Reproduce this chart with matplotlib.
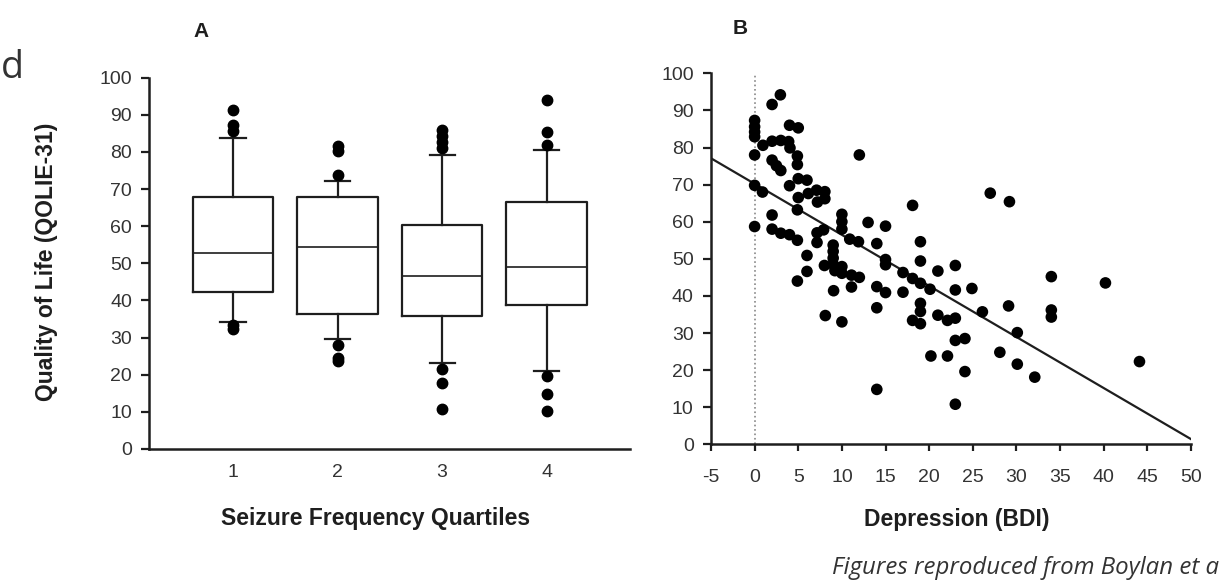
import matplotlib
matplotlib.use("Agg")
from matplotlib import pyplot as plt

plt.rcParams['font.family'] = ['Liberation Sans', 'DejaVu Sans']
plt.rcParams['axes.unicode_minus'] = False

# PANEL A - box plot stats (QOLIE-31 by seizure quartile)
quartiles = [1, 2, 3, 4]
q1 = [42.4, 36.3, 35.8, 38.8]
med = [52.7, 54.3, 46.6, 49.1]
q3 = [68.0, 68.0, 60.4, 66.5]
whis_lo = [34.3, 29.6, 23.1, 21.1]
whis_hi = [83.7, 72.1, 79.1, 80.6]
fliers = [
    [91.4, 87.3, 85.7, 33.4, 32.4],
    [81.5, 80.2, 73.9, 27.9, 24.6, 23.6],
    [86.0, 84.3, 82.6, 81.0, 21.5, 17.7, 10.7],
    [94.1, 85.3, 81.8, 19.7, 14.7, 10.2],
]

# PANEL B - depression (BDI) vs QOLIE-31
bdi = [0, 0, 0, 0, 0, 0, 0,
       0.95, 0.9,
       2.0, 2.0, 2.0, 2.5, 2.0, 2.0,
       2.95, 3.0, 3.0, 3.0,
       4.0, 3.9, 4.05, 4.0, 4.0,
       5.0, 4.9, 4.9, 5.0, 5.0, 4.9, 4.9, 4.9,
       6.0, 6.15, 6.0, 6.0,
       7.1, 7.2, 7.15, 7.15,
       8.05, 8.05, 7.9, 8.0, 8.1,
       9.0, 9.0, 9.0, 9.0, 9.2, 9.05,
       10.0, 10.0, 10.0, 10.0, 10.0, 10.0,
       10.9, 11.1, 11.1,
       11.9, 12.0, 12.0,
       13.0,
       14.0, 14.0, 14.0, 14.0,
       15.0, 15.0, 15.0, 15.0,
       17.0, 17.0,
       18.1, 18.1, 18.1,
       19.0, 19.0, 19.0, 19.0, 19.0, 19.0,
       20.1, 20.2,
       21.0, 21.0,
       22.1, 22.1,
       23.0, 23.0, 23.0, 23.0, 23.0,
       24.1, 24.1,
       24.9, 26.1, 27.0, 28.1,
       29.2, 29.1,
       30.1, 30.1, 32.1,
       34.0, 34.0, 34.0,
       40.2, 44.1]
qolie = [87.3, 85.6, 84.2, 82.9, 78.0, 69.8, 58.7,
         80.6, 68.0,
         91.6, 81.7, 76.6, 75.1, 61.8, 58.0,
         94.2, 81.9, 73.8, 56.9,
         86.0, 81.6, 79.9, 69.7, 56.5,
         85.3, 77.7, 75.4, 71.6, 66.5, 63.2, 55.0, 44.0,
         71.2, 67.6, 50.9, 46.6,
         68.5, 65.3, 57.0, 54.4,
         68.1, 66.2, 57.8, 48.2, 34.7,
         53.7, 52.0, 50.2, 48.5, 46.8, 41.4,
         62.0, 60.0, 58.0, 47.9, 46.1, 33.0,
         55.3, 45.6, 42.4,
         54.6, 78.0, 45.0,
         59.8,
         54.1, 42.5, 36.8, 14.8,
         58.8, 49.8, 48.4, 40.9,
         46.3, 41.0,
         64.4, 44.7, 33.4,
         54.6, 49.4, 43.4, 38.0, 35.8, 32.5,
         41.8, 23.8,
         46.7, 34.8,
         33.4, 23.8,
         48.2, 41.6, 34.0, 28.0, 10.8,
         28.5, 19.6,
         42.0, 35.7, 67.7, 24.8,
         65.4, 37.3,
         30.1, 21.6, 18.1,
         45.2, 36.2, 34.3,
         43.5, 22.3]
fit_x = [-5, 50]
fit_y = [77.1, 1.4]

INK = '#1e1e1e'

fig = plt.figure(figsize=(12.21, 5.81), dpi=100)
axA = fig.add_axes([0.1223, 0.2272, 0.3939, 0.6391])
axB = fig.add_axes([0.5823, 0.2353, 0.3931, 0.6385])

# --- A: box plots
stats = []
for i in range(len(quartiles)):
    stats.append(dict(med=med[i], q1=q1[i], q3=q3[i],
                      whislo=whis_lo[i], whishi=whis_hi[i], fliers=fliers[i]))
line = dict(color=INK, linewidth=1.6)
axA.bxp(stats, positions=quartiles, widths=0.77, capwidths=0.24,
        boxprops=line, whiskerprops=line, capprops=line,
        medianprops=dict(color=INK, linewidth=1.2),
        flierprops=dict(marker='o', markerfacecolor='black',
                        markeredgecolor='black', markersize=7.5))
axA.set_xlim(0.2, 4.8)
axA.set_ylim(0, 100)
axA.set_yticks(range(0, 101, 10))
axA.set_xticks(quartiles)
axA.set_xticklabels([str(q) for q in quartiles])
axA.tick_params(axis='x', length=0, pad=11)
axA.set_xlabel('Seizure Frequency Quartiles', fontsize=16.5, fontweight='bold', color=INK)
axA.xaxis.set_label_coords(0.471, -0.156)
axA.set_ylabel('Quality of Life (QOLIE-31)', fontsize=16.5, fontweight='bold', color=INK)
axA.yaxis.set_label_coords(-0.19, 0.505)

# --- B: scatter with regression line
axB.plot([0, 0], [0, 100], color='#888888', linestyle=':', linewidth=1.2)
axB.scatter(bdi, qolie, s=70, color='black', edgecolors='none', zorder=3)
axB.plot(fit_x, fit_y, color=INK, linewidth=1.6, zorder=2)
axB.set_xlim(-5, 50)
axB.set_ylim(0, 100)
axB.set_xticks(range(-5, 51, 5))
axB.set_yticks(range(0, 101, 10))
axB.tick_params(axis='x', length=5, width=1.6, pad=13)
axB.set_xlabel('Depression (BDI)', fontsize=16.5, fontweight='bold', color=INK)
axB.xaxis.set_label_coords(0.513, -0.1725)

for ax in (axA, axB):
    for side in ('top', 'right'):
        ax.spines[side].set_visible(False)
    for side in ('left', 'bottom'):
        ax.spines[side].set_linewidth(1.8)
        ax.spines[side].set_color(INK)
    ax.tick_params(axis='y', length=6, width=1.6, pad=6.5)
    ax.tick_params(labelsize=14, labelcolor='#333333', color=INK)

fig.text(0.1646, 0.9454, 'A', fontsize=15, fontweight='bold', color=INK,
         ha='center', va='center')
fig.text(0.6061, 0.9501, 'B', fontsize=15, fontweight='bold', color=INK,
         ha='center', va='center')
fig.text(0.001, 0.866, 'd', fontsize=27, family='Open Sans', color='#333333',
         ha='left', va='baseline')
fig.text(0.681, 0.012, 'Figures reproduced from Boylan et a', fontsize=17.3,
         family='Open Sans', style='italic', color='#333333',
         ha='left', va='baseline')

fig.savefig('out.png', dpi=100)
